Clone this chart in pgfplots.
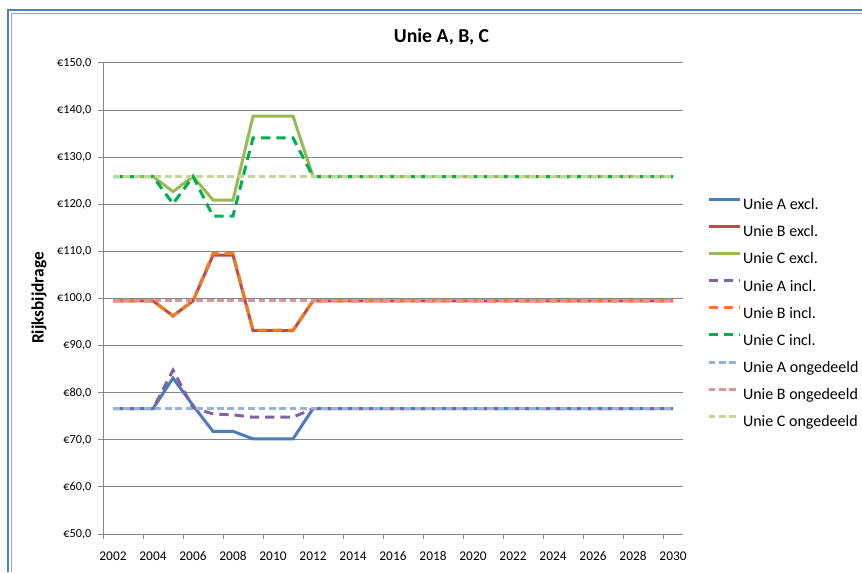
\documentclass[border=0pt]{standalone}
\usepackage{pgfplots}
\usepackage{pgfplotstable}
\pgfplotsset{compat=1.18}
\usepackage{fontspec}
\setmainfont{Carlito}

\definecolor{aex}{RGB}{74,126,187}
\definecolor{bex}{RGB}{190,75,72}
\definecolor{cex}{RGB}{152,185,84}
\definecolor{ain}{RGB}{128,100,162}
\definecolor{bin}{RGB}{240,125,30}
\definecolor{cin}{RGB}{0,176,80}
\definecolor{aon}{RGB}{149,179,215}
\definecolor{bon}{RGB}{217,150,148}
\definecolor{con}{RGB}{195,214,155}
\definecolor{gridgray}{RGB}{134,134,134}
\definecolor{frameblue}{RGB}{79,129,189}
\definecolor{frameinner}{RGB}{150,170,200}

% rijksbijdrage per unie (x 1 mln euro)
\pgfplotstableread{
year Aex   Bex   Cex   Ain  Bin   Cin   Aon  Bon  Con
2002 76.6  99.5  125.9 76.6 99.5  125.9 76.6 99.5 125.9
2003 76.6  99.5  125.9 76.6 99.5  125.9 76.6 99.5 125.9
2004 76.6  99.5  125.9 76.6 99.5  125.9 76.6 99.5 125.9
2005 83.1  96.3  122.7 84.8 96.3  120.1 76.6 99.5 125.9
2006 77.3  99.5  125.9 76.8 99.5  125.9 76.6 99.5 125.9
2007 71.8  109.2 120.9 75.5 109.6 117.5 76.6 99.5 125.9
2008 71.8  109.2 120.9 75.3 109.6 117.5 76.6 99.5 125.9
2009 70.2  93.2  138.7 74.8 93.3  134.1 76.6 99.5 125.9
2010 70.2  93.2  138.7 74.8 93.3  134.1 76.6 99.5 125.9
2011 70.2  93.2  138.7 74.8 93.3  134.1 76.6 99.5 125.9
2012 76.6  99.5  125.9 76.6 99.5  125.9 76.6 99.5 125.9
2013 76.6  99.5  125.9 76.6 99.5  125.9 76.6 99.5 125.9
2014 76.6  99.5  125.9 76.6 99.5  125.9 76.6 99.5 125.9
2015 76.6  99.5  125.9 76.6 99.5  125.9 76.6 99.5 125.9
2016 76.6  99.5  125.9 76.6 99.5  125.9 76.6 99.5 125.9
2017 76.6  99.5  125.9 76.6 99.5  125.9 76.6 99.5 125.9
2018 76.6  99.5  125.9 76.6 99.5  125.9 76.6 99.5 125.9
2019 76.6  99.5  125.9 76.6 99.5  125.9 76.6 99.5 125.9
2020 76.6  99.5  125.9 76.6 99.5  125.9 76.6 99.5 125.9
2021 76.6  99.5  125.9 76.6 99.5  125.9 76.6 99.5 125.9
2022 76.6  99.5  125.9 76.6 99.5  125.9 76.6 99.5 125.9
2023 76.6  99.5  125.9 76.6 99.5  125.9 76.6 99.5 125.9
2024 76.6  99.5  125.9 76.6 99.5  125.9 76.6 99.5 125.9
2025 76.6  99.5  125.9 76.6 99.5  125.9 76.6 99.5 125.9
2026 76.6  99.5  125.9 76.6 99.5  125.9 76.6 99.5 125.9
2027 76.6  99.5  125.9 76.6 99.5  125.9 76.6 99.5 125.9
2028 76.6  99.5  125.9 76.6 99.5  125.9 76.6 99.5 125.9
2029 76.6  99.5  125.9 76.6 99.5  125.9 76.6 99.5 125.9
2030 76.6  99.5  125.9 76.6 99.5  125.9 76.6 99.5 125.9
}\data

\begin{document}
\begin{tikzpicture}[x=0.75pt,y=0.75pt]
\useasboundingbox (0,0) rectangle (862,572);
\fill[white] (0,0) rectangle (862,572);
% kader van de grafiek (rechts en onder afgesneden)
\draw[frameblue,line width=1.3pt] (8.2,0) -- (8.2,561.8) -- (862,561.8);
\draw[frameinner,line width=0.7pt] (11.2,0) -- (11.2,558.8) -- (862,558.8);

\node[font=\bfseries\fontsize{14.8}{17}\selectfont] at (441.5,535.5) {Unie A, B, C};
\node[rotate=90,font=\bfseries\fontsize{13}{15}\selectfont] at (39,274) {Rijksbijdrage};

\begin{axis}[
    at={(77.25pt,28.5pt)}, anchor=south west,
    scale only axis,
    width=435pt, height=353.25pt,
    xmin=2001.5, xmax=2030.5,
    ymin=50, ymax=150,
    axis lines*=left,
    axis line style={draw=gridgray, line width=0.75pt, -},
    ytick={50,60,...,150},
    ymajorgrids,
    major grid style={draw=gridgray, line width=0.75pt},
    xtick={2002,2004,...,2030},
    minor xtick={2001.5,2003.5,...,2029.5},
    major x tick style={draw=none},
    tick align=outside,
    major tick length=3.75pt, minor tick length=3.75pt,
    tick style={draw=gridgray, line width=0.75pt},
    /pgf/number format/assume math mode=true,
    /pgf/number format/1000 sep={},
    xticklabel style={font=\fontsize{10}{12}\selectfont, yshift=-5.75pt},
    yticklabel style={font=\fontsize{9.2}{11}\selectfont, xshift=-1.5pt},
    yticklabel={€\pgfmathprintnumber[fixed,fixed zerofill,precision=1,use comma]{\tick}},
    legend style={
        at={(axis description cs:1.041,0.7141)}, anchor=north west,
        draw=none, fill=none, inner sep=0pt,
        font=\fontsize{12}{14}\selectfont,
        row sep=8.45pt,
        nodes={text height=8.5pt, text depth=3pt, inner ysep=0pt, inner xsep=1.5pt},
    },
    legend cell align=left,
    legend image code/.code={\draw[#1] (0pt,5pt) -- (23.25pt,5pt);},
    every axis plot/.append style={line width=2.25pt, mark=none},
]
\addplot[aex] table[x=year,y=Aex] {\data};
\addlegendentry{Unie A excl.}
\addplot[bex] table[x=year,y=Bex] {\data};
\addlegendentry{Unie B excl.}
\addplot[cex] table[x=year,y=Cex] {\data};
\addlegendentry{Unie C excl.}
\addplot[ain, dash pattern=on 7pt off 4.5pt] table[x=year,y=Ain] {\data};
\addlegendentry{Unie A incl.}
\addplot[bin, dash pattern=on 7pt off 4.5pt] table[x=year,y=Bin] {\data};
\addlegendentry{Unie B incl.}
\addplot[cin, dash pattern=on 7pt off 4.5pt] table[x=year,y=Cin] {\data};
\addlegendentry{Unie C incl.}
\addplot[aon, dash pattern=on 5pt off 2.8pt] table[x=year,y=Aon] {\data};
\addlegendentry{Unie A ongedeeld}
\addplot[bon, dash pattern=on 5pt off 2.8pt] table[x=year,y=Bon] {\data};
\addlegendentry{Unie B ongedeeld}
\addplot[con, dash pattern=on 5pt off 2.8pt] table[x=year,y=Con] {\data};
\addlegendentry{Unie C ongedeeld}
\end{axis}
\end{tikzpicture}
\end{document}
